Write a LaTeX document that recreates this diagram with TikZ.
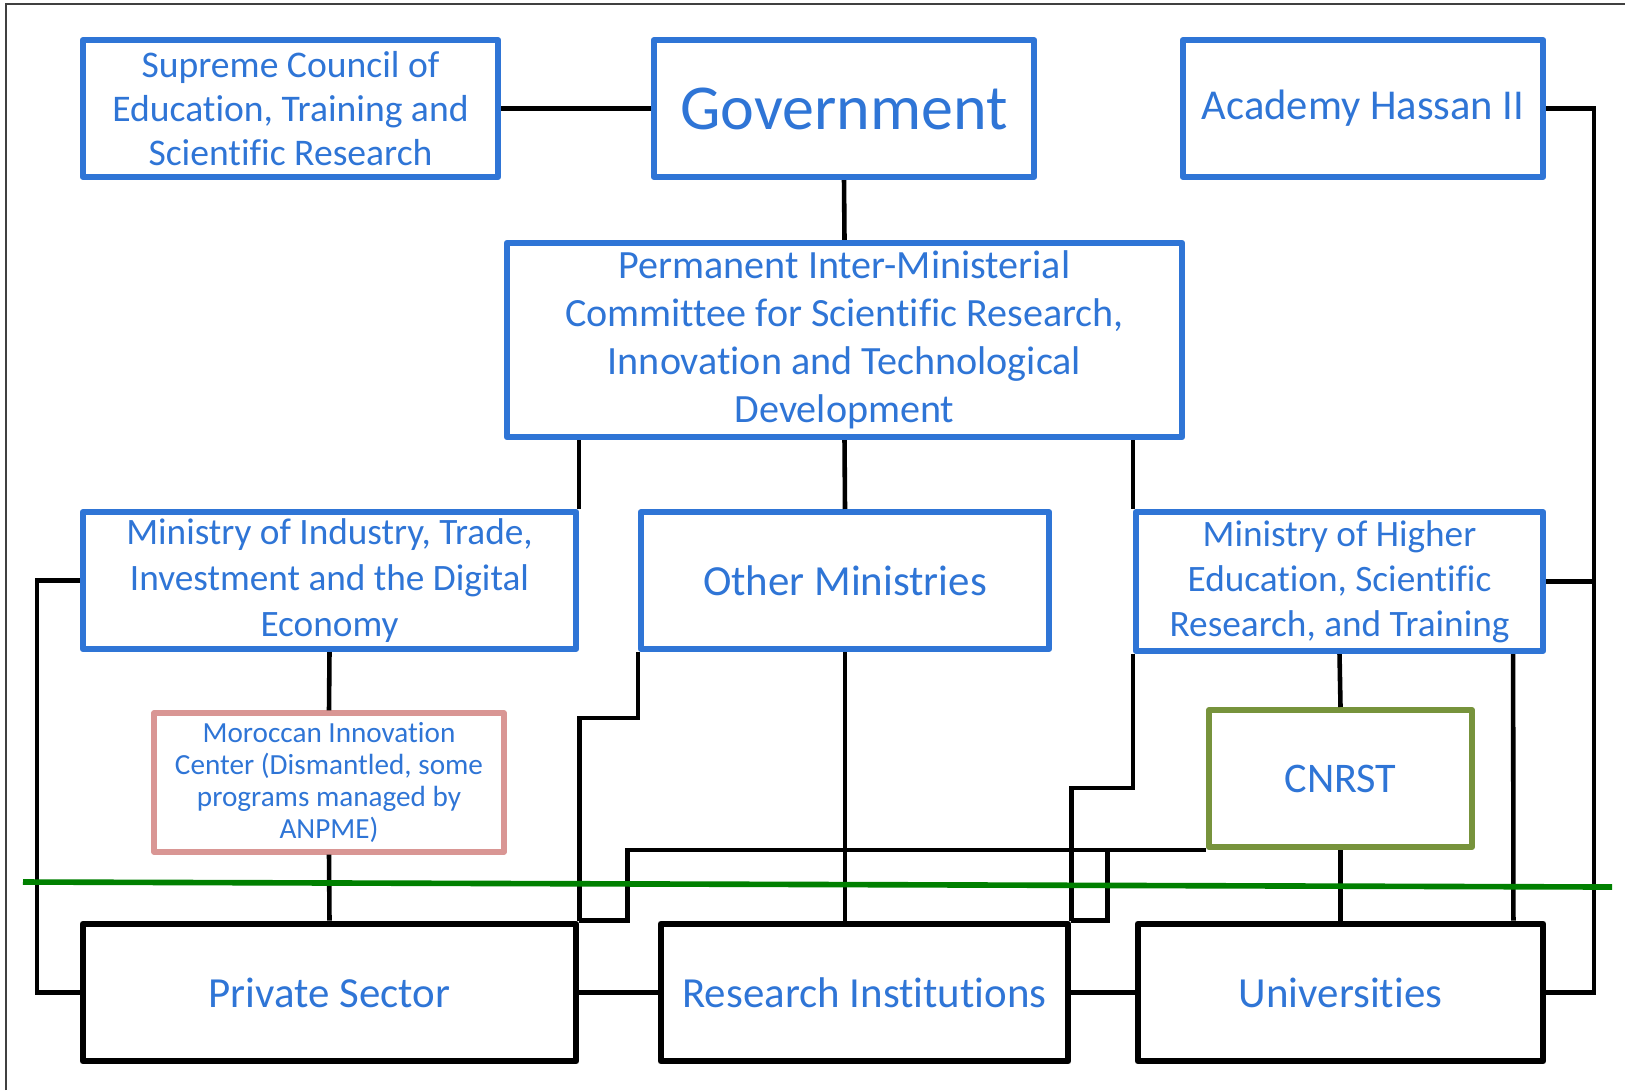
\documentclass[tikz,border=0pt]{standalone}
\usepackage{fontspec}
\setmainfont{Carlito}[Ligatures=NoCommon]
\usepackage{xcolor}
\usepackage{tikz}

\definecolor{orgblue}{RGB}{47,117,214}
\definecolor{dispink}{RGB}{217,150,148}
\definecolor{cnrstgreen}{RGB}{119,147,60}
\definecolor{splitgreen}{RGB}{0,128,0}

\begin{document}
\begin{tikzpicture}[x=0.01cm,y=-0.01cm,
  bluebox/.style={draw=orgblue,line width=1.7pt,text=orgblue,align=center,inner sep=0pt,line join=round},
  blackbox/.style={draw=black,line width=1.9pt,text=orgblue,align=center,inner sep=0pt,line join=round},
  link/.style={line width=1.3pt}]
 \useasboundingbox (0,0) rectangle (1625,1090);
 \draw[black!75,line width=0.7pt] (6,1090)--(6,4)--(1625,4);
 % top row
 \node[bluebox,minimum width=4.15cm,minimum height=1.37cm,font=\fontsize{10.7}{12.6}\selectfont] (council) at (290.5,108.5) {Supreme Council of\\Education, Training and\\Scientific Research};
 \node[bluebox,minimum width=3.80cm,minimum height=1.37cm,font=\fontsize{18.2}{21}\selectfont] (gov) at (844,108.5) {Government};
 \node[bluebox,minimum width=3.60cm,minimum height=1.37cm,font=\fontsize{12.1}{14}\selectfont] (acad) at (1363,108.5) {Academy Hassan II};
 \node[bluebox,minimum width=6.75cm,minimum height=1.94cm,font=\fontsize{11.4}{13.6}\selectfont] (perm) at (844.5,340) {Permanent Inter-Ministerial\\Committee for Scientific Research,\\Innovation and Technological\\Development};
 % ministries
 \node[bluebox,minimum width=4.93cm,minimum height=1.37cm,font=\fontsize{10.6}{13}\selectfont] (mind) at (329.5,580.5) {Ministry of Industry, Trade,\\Investment and the Digital\\Economy};
 \node[bluebox,minimum width=4.08cm,minimum height=1.37cm,font=\fontsize{12.2}{14}\selectfont] (oth) at (845,580.5) {Other Ministries};
 \node[bluebox,minimum width=4.07cm,minimum height=1.39cm,font=\fontsize{10.6}{12.8}\selectfont] (mhe) at (1339.5,581.5) {Ministry of Higher\\Education, Scientific\\Research, and Training};
 % agencies
 \node[bluebox,draw=dispink,line width=1.5pt,minimum width=3.50cm,minimum height=1.39cm,font=\fontsize{8.3}{9.05}\selectfont] (mic) at (329,782.5) {Moroccan Innovation\\Center (Dismantled, some\\programs managed by\\ANPME)};
 \node[bluebox,draw=cnrstgreen,minimum width=2.63cm,minimum height=1.37cm,font=\fontsize{12}{14}\selectfont] (cnrst) at (1340.5,778.5) {CNRST};
 % bottom row
 \node[blackbox,minimum width=4.93cm,minimum height=1.37cm,font=\fontsize{12.2}{14}\selectfont] (priv) at (329.5,992.5) {Private Sector};
 \node[blackbox,minimum width=4.07cm,minimum height=1.37cm,font=\fontsize{12.2}{14}\selectfont] (res) at (864.5,992.5) {Research Institutions};
 \node[blackbox,minimum width=4.05cm,minimum height=1.37cm,font=\fontsize{12.2}{14}\selectfont] (uni) at (1340.5,992.5) {Universities};

 \coordinate (rail) at ([xshift=0.48cm]acad.east);
 \coordinate (privjoint) at ([xshift=0.48cm]priv.north east);
 \coordinate (resjoint) at ([xshift=0.36cm]res.north east);

 \draw[link] (council.east)--(gov.west);
 \draw[link] (gov.south)--(perm.north);
 \draw[link] (perm.south -| mind.north east)--(mind.north east);
 \draw[link] (perm.south)--(oth.north);
 \draw[link] (perm.south -| mhe.north west)--(mhe.north west);
 \draw[link] (mind.south)--(mic.north);
 \draw[link] (mic.south)--(priv.north);
 \draw[link] (mind.west)--++(-43,0)|-(priv.west);
 \draw[link] (priv.east)--(res.west);
 \draw[link] (res.east)--(uni.west);
 \draw[link] (oth.south west)--++(0,66)-|(priv.north east);
 \draw[link] (oth.south)--(oth.south |- res.north);
 \draw[link] (mhe.south west)--++(0,134)-|(res.north east);
 \draw[link] (mhe.south)--(cnrst.north);
 \draw[link] ([xshift=-0.33cm]mhe.south east)--([xshift=-0.33cm]uni.north east);
 \draw[link] (cnrst.south)--(uni.north);
 \draw[link] (cnrst.south west)-|(privjoint)--(priv.north east);
 \draw[link] (resjoint |- cnrst.south west)--(resjoint)--(res.north east);
 \draw[link] (acad.east)--(rail)|-(uni.east);
 \draw[link] (mhe.east)--(rail |- mhe.east);

 \draw[splitgreen,line width=1.6pt] (23,882)--(1612,887);
\end{tikzpicture}
\end{document}
